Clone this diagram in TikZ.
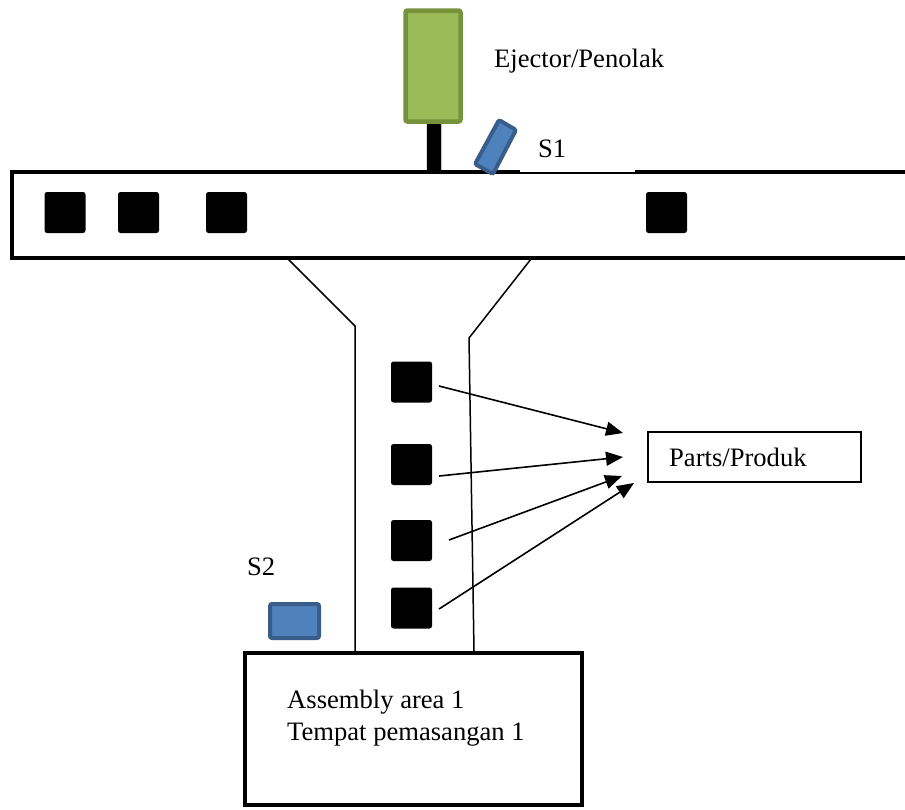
\documentclass[tikz,border=0pt]{standalone}
\usepackage{fontspec}
\setmainfont{Liberation Serif}
\usetikzlibrary{arrows.meta}
\definecolor{ejfill}{HTML}{9BBB59}
\definecolor{ejline}{HTML}{76923C}
\definecolor{snfill}{HTML}{4F81BD}
\definecolor{snline}{HTML}{385D8A}
\begin{document}
\begin{tikzpicture}[x=1pt,y=-1pt,
  thickline/.style={line width=4.5pt},
  thinline/.style={line width=1.5pt},
  part/.style={draw=none,fill=black,rounded corners=2.5pt,minimum width=41pt,minimum height=41pt,inner sep=0pt},
  lbl/.style={inner sep=0pt,anchor=base west,font=\fontsize{26.6pt}{32pt}\selectfont},
  flow/.style={line width=1.6pt,-{Triangle[length=17pt,width=14pt]}},
  sensor/.style={fill=snfill,draw=snline,line width=4pt,rounded corners=2pt}]
\useasboundingbox (0,0) rectangle (905,809);
% conveyor
\draw[thickline,line cap=rect] (518,172) -- (12,172) -- (12,258) -- (906,258);
\draw[thickline] (635,172) -- (906,172);
\draw[thinline] (516,173) -- (637,173);
% funnel
\draw[thinline] (288,259) -- (355,326) -- (355,651);
\draw[thinline] (531,259) -- (469,338) -- (474,651);
% parts on conveyor
\node[part] (c1) at (65,212.5) {};
\node[part] (c2) at (138.5,212.5) {};
\node[part] (c3) at (226.5,212.5) {};
\node[part] (c4) at (666.5,212.5) {};
% parts in chute
\node[part] (p1) at (411.5,382) {};
\node[part] (p2) at (411.5,464.5) {};
\node[part] (p3) at (411.5,540.5) {};
\node[part] (p4) at (411.5,608) {};
% ejector
\draw[fill=black,rounded corners=2pt] (427,121) rectangle (441,172);
\node[draw=ejline,fill=ejfill,line width=4.5pt,rounded corners=2pt,minimum width=55pt,minimum height=111pt,inner sep=0pt] (ej) at (433,66) {};
\node[lbl] (ejt) at (494,67) {Ejector/Penolak};
% sensor S1
\draw[sensor] (499,120) -- (516,130) -- (493,174) -- (475,164) -- cycle;
\node[lbl] (s1t) at (538,157) {S1};
% sensor S2
\node[sensor,minimum width=49pt,minimum height=34pt,inner sep=0pt] (s2) at (294.5,621) {};
\node[lbl] (s2t) at (247,575) {S2};
% assembly box
\draw[thickline] (245,653) rectangle (582,805);
\node[lbl] (as1) at (287,708) {Assembly area 1};
\node[lbl] (as2) at (287,740) {Tempat pemasangan 1};
% parts box
\node[draw,line width=1.2pt,minimum width=213pt,minimum height=50pt,inner sep=0pt] (pb) at (754.5,457) {};
\node[lbl] (pbt) at (669,466) {Parts/Produk};
% arrows
\coordinate (a1s) at (439,386);
\coordinate (a2s) at (439,476);
\coordinate (a3s) at (449,540);
\coordinate (a4s) at (439,609);
\coordinate (a1e) at (623,433);
\coordinate (a2e) at (623,457);
\coordinate (a3e) at (622,476);
\coordinate (a4e) at (634,483);
\draw[flow] (a1s) -- (a1e);
\draw[flow] (a2s) -- (a2e);
\draw[flow] (a3s) -- (a3e);
\draw[flow] (a4s) -- (a4e);
\end{tikzpicture}
\end{document}
